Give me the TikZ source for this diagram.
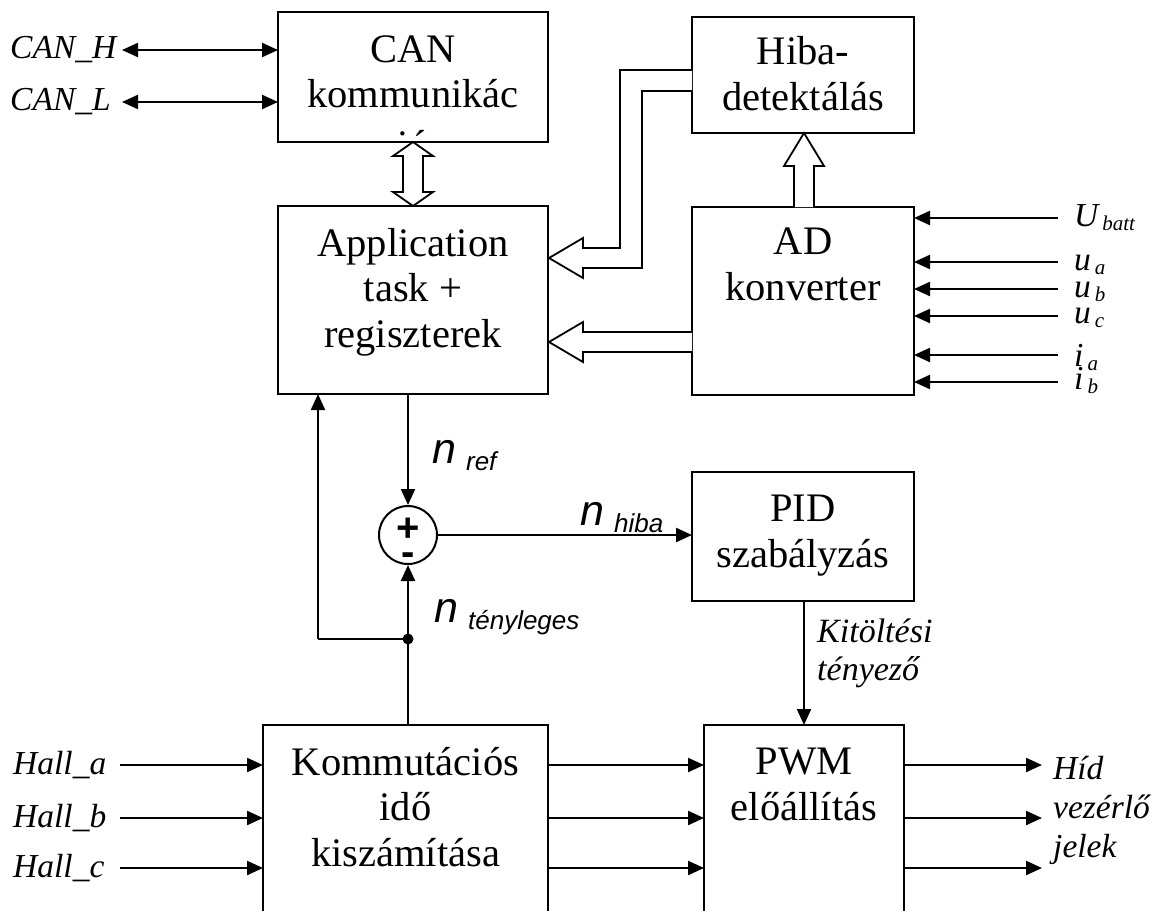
\documentclass[tikz,border=0pt]{standalone}
\usepackage{fontspec}
\setmainfont{Liberation Serif}
\setsansfont{Liberation Sans}
\usetikzlibrary{arrows.meta}
\newcommand\ssub[2]{#1\hspace{4pt}\raisebox{-4pt}{\fontsize{21}{21}\selectfont #2}}
\newcommand\nsub[1]{n\hspace{10pt}\raisebox{-7pt}{\fontsize{26}{26}\selectfont #1}}
\begin{document}
\begin{tikzpicture}[x=1pt,y=-1pt,
  blk/.style={draw, line width=2pt, inner sep=0pt, outer sep=0pt},
  btxt/.style={font=\fontsize{40.5}{45.5}\selectfont, align=center, inner sep=0pt},
  lbl/.style={font=\fontsize{33.5}{39}\selectfont\itshape, inner sep=0pt},
  nlbl/.style={font=\sffamily\itshape\fontsize{43}{44}\selectfont, inner sep=0pt},
  sig/.style={line width=2.2pt, -{Triangle[length=16pt,width=14pt]}},
  bsig/.style={line width=2.2pt, {Triangle[length=16pt,width=14pt]}-{Triangle[length=16pt,width=14pt]}},
  hol/.style={draw, line width=1.8pt, fill=white, line join=miter}]
\useasboundingbox (0,0) rectangle (1155,910);
\clip (0,0) rectangle (1155,910);

% boxes
\node[blk, minimum width=270pt, minimum height=130pt] (can) at (413,77) {};
\node[blk, minimum width=270pt, minimum height=188pt] (app) at (413,300) {};
\node[blk, minimum width=222pt, minimum height=116pt] (hiba) at (803,75) {};
\node[blk, minimum width=222pt, minimum height=188pt] (ad) at (803,301) {};
\node[blk, minimum width=222pt, minimum height=129pt] (pid) at (803,536.5) {};
\node[blk, minimum width=285pt, minimum height=240pt] (komm) at (405.5,845) {};
\node[blk, minimum width=200pt, minimum height=240pt] (pwm) at (804,845) {};

% box texts
\begin{scope}
\clip (279,13) rectangle (547,136);
\node[btxt] (cant) at (413,101) {\strut CAN\\\strut kommunikác\\[5pt]\strut ió};
\end{scope}
\node[btxt] (appt) at (413,292.4) {\strut Application\\\strut task +\\\strut regiszterek};
\node[btxt] (hibat) at (803,78.6) {\strut Hiba-\\\strut detektálás};
\node[btxt] (adt) at (803,268.6) {\strut AD\\\strut konverter};
\node[btxt] (pidt) at (803,535.6) {\strut PID\\\strut szabályzás};
\node[btxt] (kommt) at (405.5,811.4) {\strut Kommutációs\\\strut idő\\\strut kiszámítása};
\node[btxt] (pwmt) at (804,788.6) {\strut PWM\\\strut előállítás};

% hollow arrows
\path[hol] (413,142) -- (433,156) -- (423,156) -- (423,192) -- (433,192) -- (413,206)
  -- (393,192) -- (403,192) -- (403,156) -- (393,156) -- cycle;
\path[hol] (794,207) -- (794,166) -- (784,166) -- (804,133) -- (824,166) -- (814,166) -- (814,207);
\path[hol] (692,70) -- (620,70) -- (620,248) -- (583,248) -- (583,238) -- (549,258)
  -- (583,278) -- (583,268) -- (642,268) -- (642,91) -- (692,91);
\path[hol] (692,332) -- (583,332) -- (583,322) -- (549,342) -- (583,362) -- (583,352) -- (692,352);

% CAN lines
\node[lbl, anchor=base west] (canh) at (10,58) {CAN\_H};
\node[lbl, anchor=base west] (canl) at (10,110) {CAN\_L};
\coordinate (canhe) at (122,50);
\coordinate (canle) at (122,102);
\draw[bsig] (canhe) -- (canhe -| can.west);
\draw[bsig] (canle) -- (canle -| can.west);

% AD inputs
\foreach \yy/\nm in {218/ub, 262/ua, 289/ubb, 316/uc, 355/ia, 382/ib}{
  \coordinate (in\nm) at (1058,\yy);
  \draw[sig] (in\nm) -- (in\nm -| ad.east);
}
\node[lbl, anchor=base west] (lub) at (1074,226) {\ssub{U}{batt}};
\node[lbl, anchor=base west] (lua) at (1074,270) {\ssub{u}{a}};
\node[lbl, anchor=base west] (lubb) at (1074,297) {\ssub{u}{b}};
\node[lbl, anchor=base west] (luc) at (1074,323) {\ssub{u}{c}};
\node[lbl, anchor=base west] (lia) at (1074,366) {\ssub{i}{a}};
\node[lbl, anchor=base west] (lib) at (1074,389) {\ssub{i}{b}};

% summing junction
\node[draw, circle, line width=2pt, minimum size=58pt, inner sep=0pt] (sum) at (408,535) {};
\node[font=\sffamily\bfseries\fontsize{40}{40}\selectfont, inner sep=0pt] (plus) at (408,529.5) {+};
\node[font=\sffamily\bfseries\fontsize{40}{40}\selectfont, inner sep=0pt] (minus) at (408,559.5) {-};

\draw[sig] (sum.north |- app.south) -- (sum.north);
\draw[sig] (sum.east) -- (sum.east -| pid.west);
\coordinate (dot) at (408,639);
\draw[line width=2.2pt] (komm.north -| dot) -- (dot);
\draw[sig] (dot) -- (sum.south);
\fill (dot) circle (5.5pt);
\coordinate (fbc) at (318,639);
\draw[line width=2.2pt] (dot) -- (fbc);
\draw[sig] (fbc) -- (fbc |- app.south);

\node[nlbl, anchor=base west] (nref) at (432,463) {\nsub{ref}};
\node[nlbl, anchor=base west] (nhiba) at (580,525) {\nsub{hiba}};
\node[nlbl, anchor=base west] (nteny) at (434,622) {\nsub{tényleges}};

% PID -> PWM
\draw[sig] (pwm.north |- pid.south) -- (pwm.north);
\node[lbl, font=\fontsize{34}{38}\selectfont\itshape, align=left, anchor=north west] (kit) at (817,615.4) {\strut Kitöltési\\\strut tényező};

% Hall inputs
\foreach \yy/\nm/\lb in {765/a/Hall\_a, 818/b/Hall\_b, 868/c/Hall\_c}{
  \coordinate (h\nm) at (120,\yy);
  \draw[sig] (h\nm) -- (h\nm -| komm.west);
  \node[lbl, anchor=base west] (hl\nm) at (13,\yy+9) {\lb};
  \draw[sig] (komm.east |- h\nm) -- (pwm.west |- h\nm);
  \coordinate (o\nm) at (1042,\yy);
  \draw[sig] (pwm.east |- h\nm) -- (o\nm);
}
\node[lbl, align=left, anchor=north west] (outl) at (1053,751.7) {\strut Híd\\\strut vezérlő\\\strut jelek};
\end{tikzpicture}
\end{document}
